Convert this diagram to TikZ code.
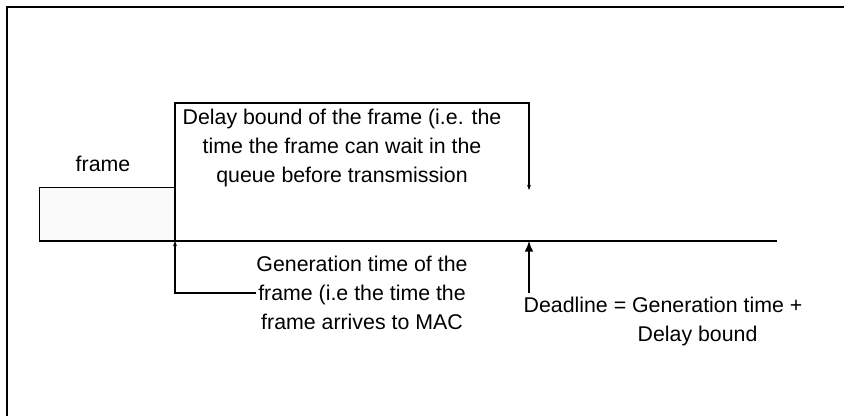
\documentclass[tikz,border=0pt]{standalone}
\usepackage{fontspec}
\setmainfont{Liberation Sans}
\usetikzlibrary{positioning}
\usetikzlibrary{arrows.meta}

\begin{document}
\begin{tikzpicture}[x=0.75pt,y=-0.75pt,line width=1pt,
    lbl/.style={align=center,inner sep=0pt,font=\fontsize{16}{21.75}\selectfont},
    smalltip/.style={-{Stealth[length=4pt,width=3pt]}},
    bigtip/.style={-{Latex[length=8pt,width=6.5pt]}}]
      \newcommand{\AxisY}{241}
      \newcommand{\GenX}{175}
      \newcommand{\DeadX}{529}
      \useasboundingbox (0,0) rectangle (844,416);
      \draw (7,416) -- (7,7) -- (844,7);% outer frame
      \coordinate (axisL) at (39,\AxisY);
      \coordinate (axisR) at (777,\AxisY);
      \coordinate (gen) at (\GenX,\AxisY);
      \coordinate (dead) at (\DeadX,\AxisY);
      \coordinate (dtop) at (\GenX,103);
      \coordinate (dend) at (\DeadX,190);
      \coordinate (dfoot) at (\DeadX,293);
      \node[draw,fill=gray!4,minimum width=102pt,minimum height=39.75pt,
            inner sep=0pt,anchor=south west] (framebox) at (axisL) {};
      \node[lbl] (framelbl) at (103,164) {frame};
      \node[lbl] (delaytxt) at (342,148) {Delay bound of the frame (i.e. the\\
        time the frame can wait in the\\queue before transmission};
      \node[lbl] (gentxt) at (362,293) {Generation time of the\\
        frame (i.e the time the\\frame arrives to MAC};
      \node[lbl,align=left,anchor=north west] (deadtxt) at (523,296)
        {Deadline = Generation time +\\\hspace*{85.5pt}Delay bound};
      \draw (axisL) -- (axisR);% time axis
      \draw[smalltip] (gen) -- (dtop) -| (dend);% delay bound
      \draw[smalltip] (gentxt.west) -| (gen);% generation time
      \draw[bigtip] (dfoot) -- (dead);% deadline
    \end{tikzpicture}
\end{document}
